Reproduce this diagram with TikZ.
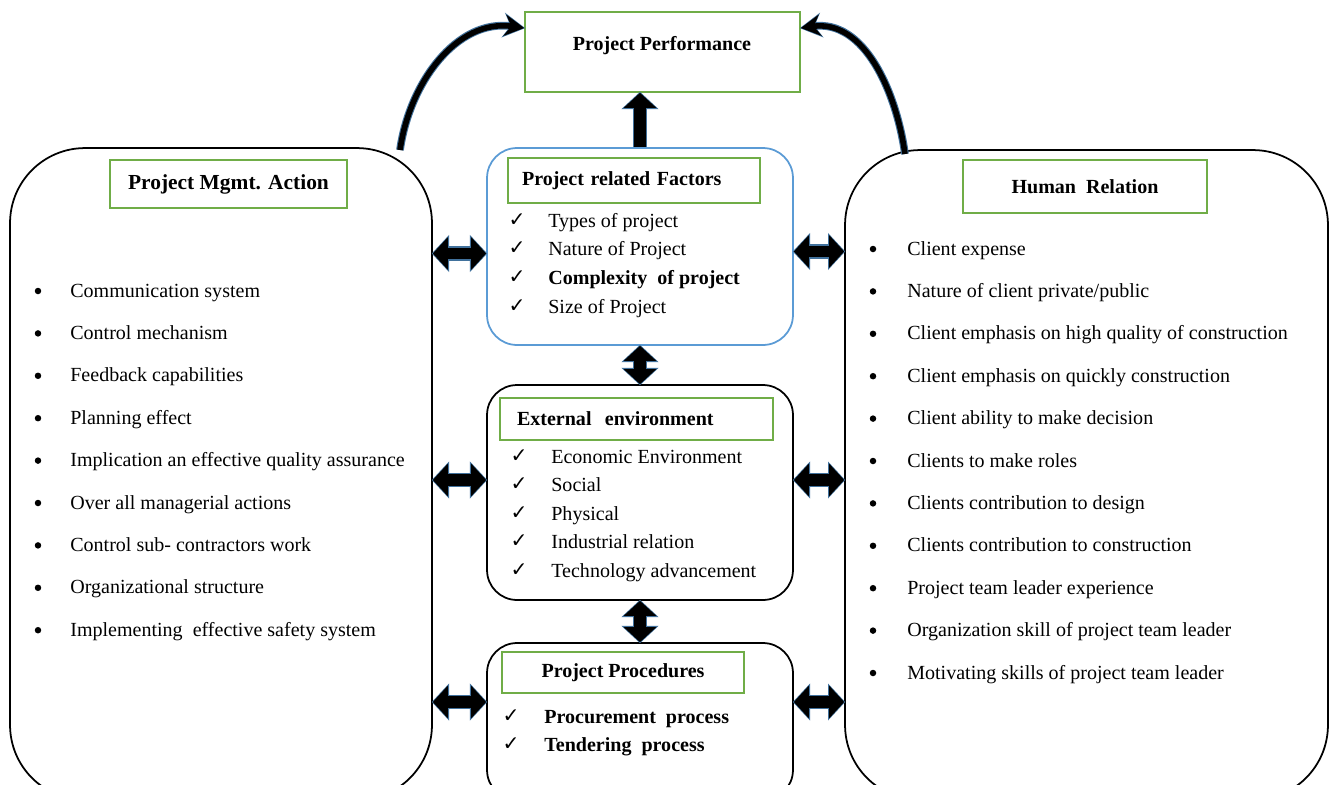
\documentclass[tikz,border=0pt]{standalone}
\usepackage{fontspec}
\setmainfont{Liberation Serif}
\newfontfamily\symfont{DejaVu Sans}
\usetikzlibrary{arrows.meta}

\definecolor{boxgreen}{RGB}{112,173,71}
\definecolor{boxblue}{RGB}{91,155,213}
\definecolor{glow}{RGB}{65,113,156}
\newcommand\bodysize{\fontsize{11.4}{13.7}\selectfont}

\tikzset{
  bigtip/.tip={Triangle[length=8.5pt,width=18pt]},
  glowtip/.tip={Triangle[length=9.8pt,width=20.5pt]},
  panel/.style={draw=black, line width=1pt, rounded corners=1.5cm},
  factorbox/.style={draw=#1, line width=1pt, rounded corners=0.6cm, minimum width=6.12cm},
  titlebox/.style={draw=boxgreen, line width=1pt, font=\bodysize\bfseries},
  txt/.style={anchor=base west, inner sep=0pt, font=\bodysize},
  dot/.style={circle, fill=black, inner sep=0pt, minimum size=0.13cm},
  tick/.style={anchor=base, inner sep=0pt, font=\symfont\fontsize{11.5}{12}\selectfont},
  twoway/.style={line width=6.8pt, bigtip-bigtip,
    preaction={draw=glow, line width=8.2pt, glowtip-glowtip, shorten <=-0.6pt, shorten >=-0.6pt}},
  oneway/.style={line width=6.8pt, -bigtip,
    preaction={draw=glow, line width=8.2pt, -glowtip, shorten >=-0.6pt}},
  swoop/.style={line width=3.2pt, -{Stealth[length=11pt,width=12pt]},
    preaction={draw=glow, line width=4.4pt, -{Stealth[length=12.5pt,width=14pt]}, shorten >=-0.6pt}}
}

\begin{document}
\begin{tikzpicture}[x=0.02cm, y=-0.02cm]
    \useasboundingbox (0,0) rectangle (1330,785);
    \clip (0,0) rectangle (1330,785);

    % Performance box
    \node[titlebox, minimum width=5.5cm, minimum height=1.6cm] (perf) at (662.5,52) {};
    \node[font=\bodysize\bfseries] (perftxt) at (662,46) {Project Performance};

    % Side panels
    \node[panel, minimum width=8.44cm, minimum height=13.04cm] (mgmt) at (221,474) {};
    \node[titlebox, minimum width=4.74cm, minimum height=0.96cm, font=\fontsize{12.2}{14}\selectfont\bfseries] (mgmttitle) at (228.5,184) {Project Mgmt. Action};

    \node[panel, minimum width=9.66cm, minimum height=13cm] (hrel) at (1086.5,475) {};
    \node[titlebox, minimum width=4.88cm, minimum height=1.06cm] (hreltitle) at (1085,186.5) {Human\ \ Relation};

    % Middle column
    \node[factorbox=boxblue, minimum height=3.94cm] (pfac) at (640,246.5) {};
    \node[titlebox, minimum width=5.04cm, minimum height=0.9cm, text width=4.48cm, inner xsep=0.28cm, align=left] (pfactitle) at (634,180.5) {Project related Factors};

    \node[factorbox=black, minimum height=4.3cm] (envr) at (640,492.5) {};
    \node[titlebox, minimum width=5.46cm, minimum height=0.84cm, text width=4.78cm, inner xsep=0.34cm, align=left] (envrtitle) at (636.5,419) {External\ \ environment};

    \node[factorbox=black, minimum height=3.14cm] (proc) at (640,721.5) {};
    \node[titlebox, minimum width=4.84cm, minimum height=0.82cm] (proctitle) at (623,672.5) {Project Procedures};

    % Lists
    \foreach \entry [count=\i] in {Communication system, Control mechanism, Feedback capabilities,
        Planning effect, Implication an effective quality assurance, Over all managerial actions,
        Control sub- contractors work, Organizational structure, Implementing\ \ effective safety system} {
        \node[dot] (mb\i) at (38,{291+42.4*(\i-1)}) {};
        \node[txt] (mt\i) at (70,{297+42.4*(\i-1)}) {\entry};
    }
    \foreach \entry [count=\i] in {Client expense, Nature of client private/public,
        Client emphasis on high quality of construction, Client emphasis on quickly construction,
        Client ability to make decision, Clients to make roles, Clients contribution to design,
        Clients contribution to construction, Project team leader experience,
        Organization skill of project team leader, Motivating skills of project team leader} {
        \node[dot] (hb\i) at (873,{249+42.4*(\i-1)}) {};
        \node[txt] (ht\i) at (907,{255+42.4*(\i-1)}) {\entry};
    }
    \foreach \entry [count=\i] in {Types of project, Nature of Project,
        \textbf{Complexity\ \ of project}, Size of Project} {
        \node[tick] (pc\i) at (517,{226+28.7*(\i-1)}) {✓};
        \node[txt] (pt\i) at (548,{227+28.7*(\i-1)}) {\entry};
    }
    \foreach \entry [count=\i] in {Economic Environment, Social, Physical,
        Industrial relation, Technology advancement} {
        \node[tick] (ec\i) at (519,{462+28.5*(\i-1)}) {✓};
        \node[txt] (et\i) at (551,{463+28.5*(\i-1)}) {\entry};
    }
    \foreach \entry [count=\i] in {\textbf{Procurement\ \ process}, \textbf{Tendering\ \ process}} {
        \node[tick] (rc\i) at (511,{722+28*(\i-1)}) {✓};
        \node[txt] (rt\i) at (544,{723+28*(\i-1)}) {\entry};
    }

    % Arrow anchors
    \coordinate (pw) at ([yshift=-0.14cm]pfac.west);
    \coordinate (ew) at ([yshift=0.25cm]envr.west);
    \coordinate (rw) at ([yshift=0.39cm]proc.west);
    \coordinate (pe) at ([yshift=-0.1cm]pfac.east);
    \coordinate (ee) at ([yshift=0.25cm]envr.east);
    \coordinate (re) at ([yshift=0.39cm]proc.east);

    % Block arrows
    \draw[oneway] (pfac.north) -- (pfac.north |- perf.south);
    \draw[twoway] (pfac.south) -- (envr.north);
    \draw[twoway] (envr.south) -- (proc.north);
    \draw[twoway] (mgmt.east |- pw) -- (pw);
    \draw[twoway] (mgmt.east |- ew) -- (ew);
    \draw[twoway] (mgmt.east |- rw) -- (rw);
    \draw[twoway] (pe) -- (hrel.west |- pe);
    \draw[twoway] (ee) -- (hrel.west |- ee);
    \draw[twoway] (re) -- (hrel.west |- re);

    % Curved arrows
    \coordinate (lfoot) at (400,150);
    \coordinate (rfoot) at (905,154);
    \draw[swoop] (lfoot) to[out=82, in=172] ([yshift=0.48cm]perf.west);
    \draw[swoop] (rfoot) to[out=98, in=8] ([yshift=0.48cm]perf.east);
\end{tikzpicture}
\end{document}
